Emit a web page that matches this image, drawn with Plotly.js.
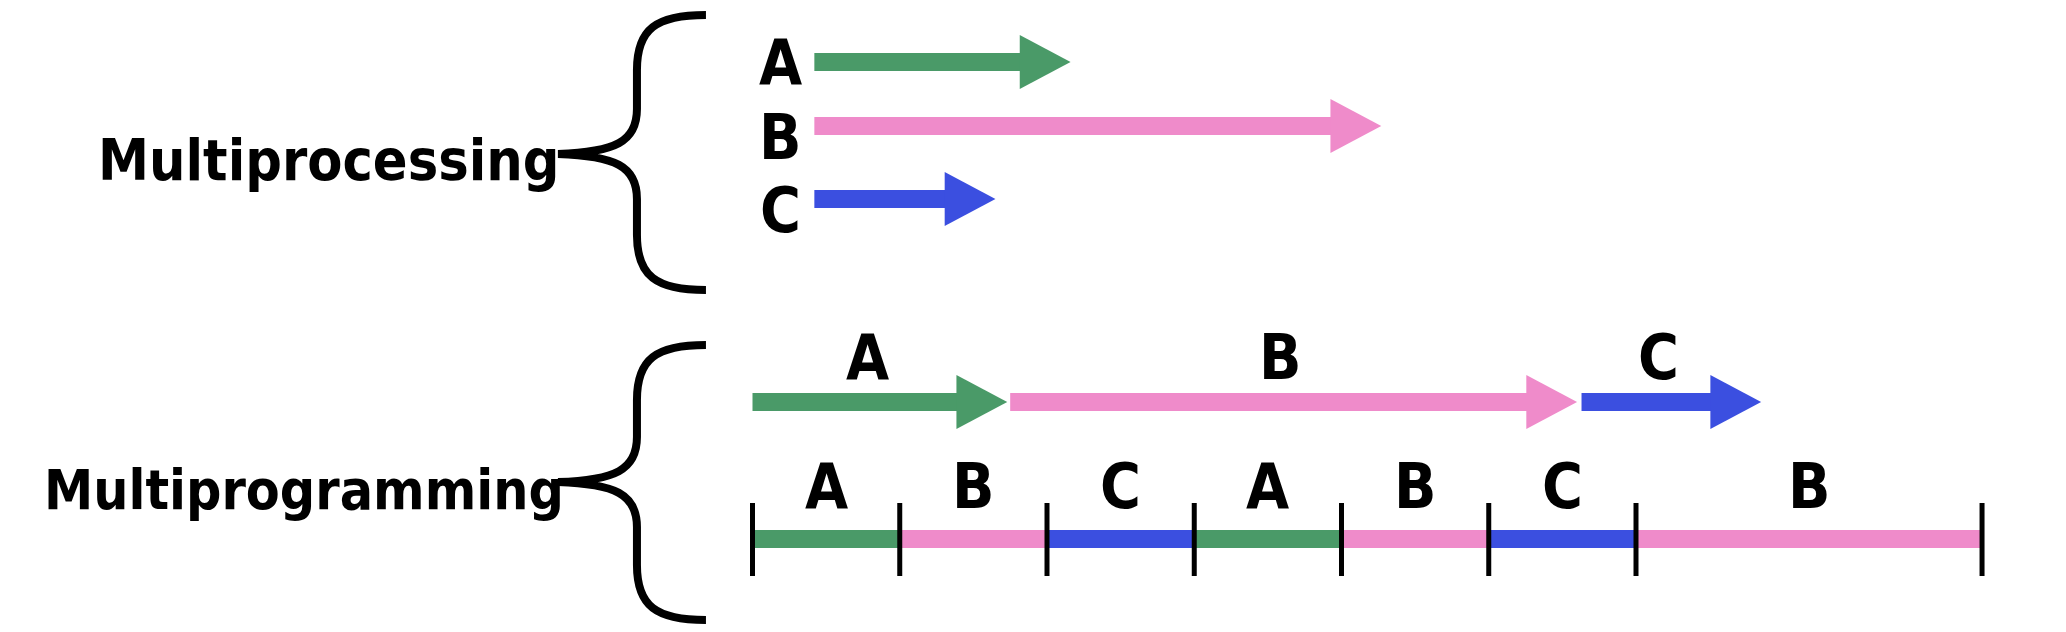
<!DOCTYPE html>
<html>
<head>
<meta charset="utf-8">
<script src="https://cdn.plot.ly/plotly-3.0.1.min.js"></script>
<style>html,body{margin:0;padding:0;background:#fff}</style>
</head>
<body>
<div id="chart" style="width:2066px;height:632px"></div>
<script>
// multiprocessing: all three jobs run at once
var procNames = ['A', 'B', 'C'];
var procStart = [0.42, 0.42, 0.42];
var procLength = [1.74, 3.85, 1.23];

// multiprogramming, top row: one job after the other
var progNames = ['A', 'B', 'C'];
var progStart = [0, 1.75, 5.63];
var progLength = [1.73, 3.85, 1.22];

// multiprogramming, time slices
var sliceNames = ['A', 'B', 'C', 'A', 'B', 'C', 'B'];
var sliceStart = [0, 1, 2, 3, 4, 5, 6];
var sliceEnd = [1, 2, 3, 4, 5, 6, 8.35];

var colors = {A: '#4a9a68', B: '#ef8bca', C: '#3b4fe0'};

// lanes, y in pixels from the top
var procY = [62, 126, 199];
var procLabelY = [62, 137, 210];
var progY = 402, progLabelY = 357;
var sliceY = 539, sliceLabelY = 486;

var W = 2066, H = 632;
var HEAD = 0.345;   // arrow head length in time units
var font = {family: 'DejaVu Sans Condensed, DejaVu Sans, sans-serif', color: '#000', weight: 'bold'};

var traces = [];
var annotations = [];

function arrow(x0, len, y, color) {
  var tip = x0 + len, back = tip - HEAD;
  traces.push({x: [x0, back + 0.02], y: [y, y], mode: 'lines',
    line: {color: color, width: 18}, hoverinfo: 'skip'});
  traces.push({x: [back, tip, back, back], y: [y - 27, y, y + 27, y - 27], mode: 'lines',
    fill: 'toself', fillcolor: color, line: {color: color, width: 0}, hoverinfo: 'skip'});
}

function label(x, y, txt, size) {
  annotations.push({x: x, y: y, xref: 'x', yref: 'y', text: txt, showarrow: false,
    xanchor: 'center', yanchor: 'middle',
    font: Object.assign({}, font, {size: size})});
}

for (var i = 0; i < procNames.length; i++) {
  arrow(procStart[i], procLength[i], procY[i], colors[procNames[i]]);
  label(procStart[i] - 0.23, procLabelY[i], procNames[i], 62);
}

for (var i = 0; i < progNames.length; i++) {
  arrow(progStart[i], progLength[i], progY, colors[progNames[i]]);
  label(progStart[i] + (progLength[i] - HEAD / 2) / 2, progLabelY, progNames[i], 62);
}

for (var i = 0; i < sliceNames.length; i++) {
  traces.push({x: [sliceStart[i], sliceEnd[i]], y: [sliceY, sliceY], mode: 'lines',
    line: {color: colors[sliceNames[i]], width: 18}, hoverinfo: 'skip'});
  label((sliceStart[i] + sliceEnd[i]) / 2, sliceLabelY, sliceNames[i], 62);
}

// tick marks at every switch
var tx = [], ty = [];
sliceStart.concat([sliceEnd[sliceEnd.length - 1]]).forEach(function (t) {
  tx.push(t, t, null);
  ty.push(sliceY - 36, sliceY + 37, null);
});
traces.push({x: tx, y: ty, mode: 'lines', line: {color: '#000', width: 5}, hoverinfo: 'skip'});

// braces, drawn in paper space from pixel points
function P(px, py) { return (px / W).toFixed(4) + ',' + (1 - py / H).toFixed(4); }
function brace(top, tip, bot) {
  return 'M' + P(706, top) + ' C' + P(656, top) + ' ' + P(637, top + 14) + ' ' + P(637, top + 55) +
    ' L' + P(637, tip - 45) + ' C' + P(637, tip - 12) + ' ' + P(615, tip - 2) + ' ' + P(558, tip) +
    ' C' + P(615, tip + 2) + ' ' + P(637, tip + 12) + ' ' + P(637, tip + 45) +
    ' L' + P(637, bot - 55) + ' C' + P(637, bot - 14) + ' ' + P(656, bot) + ' ' + P(706, bot);
}
var shapes = [
  {type: 'path', xref: 'paper', yref: 'paper', path: brace(15, 154, 290), line: {color: '#000', width: 8}},
  {type: 'path', xref: 'paper', yref: 'paper', path: brace(345, 482, 620), line: {color: '#000', width: 8}}
];

annotations.push({x: 328 / W, y: 1 - 160 / H, xref: 'paper', yref: 'paper', text: 'Multiprocessing',
  showarrow: false, xanchor: 'center', yanchor: 'middle', font: Object.assign({}, font, {size: 57})});
annotations.push({x: 304 / W, y: 1 - 490 / H, xref: 'paper', yref: 'paper', text: 'Multiprogramming',
  showarrow: false, xanchor: 'center', yanchor: 'middle', font: Object.assign({}, font, {size: 55})});

var x0px = 752.5, unit = 147.25;
var layout = {
  width: W, height: H,
  margin: {l: 0, r: 0, t: 0, b: 0, pad: 0},
  paper_bgcolor: '#fff', plot_bgcolor: '#fff',
  showlegend: false,
  xaxis: {range: [-x0px / unit, (W - x0px) / unit], visible: false, fixedrange: true},
  yaxis: {range: [H, 0], visible: false, fixedrange: true},
  shapes: shapes,
  annotations: annotations
};

Plotly.newPlot('chart', traces, layout, {staticPlot: true});
</script>
</body>
</html>
